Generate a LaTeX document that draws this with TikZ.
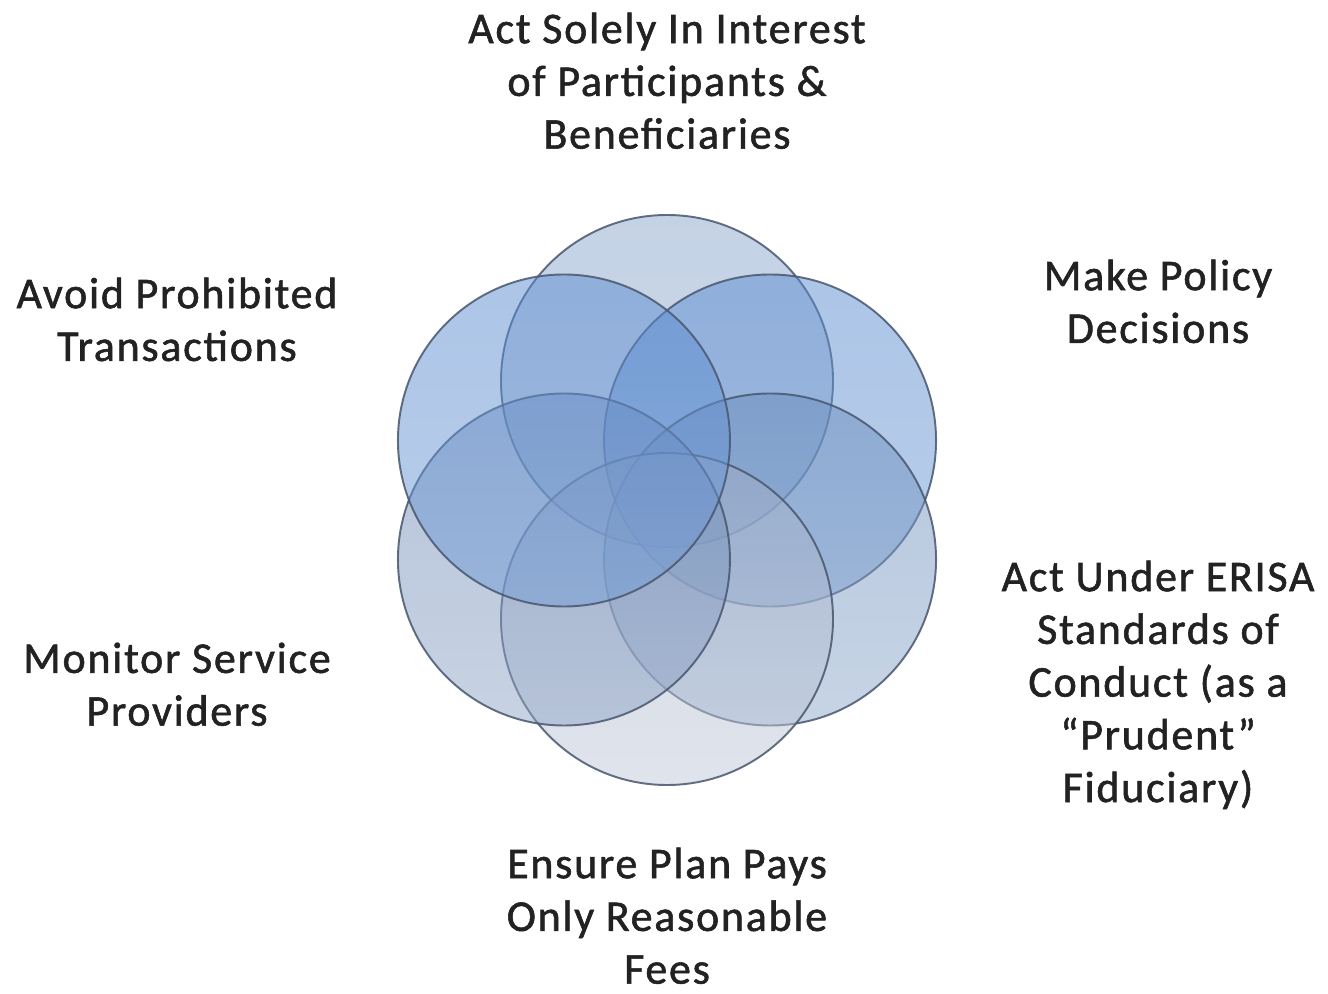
\documentclass[tikz,border=0pt]{standalone}
\usepackage{fontspec}
\setmainfont{Carlito}[LetterSpace=4, FakeBold=1.3]
\usepackage{xcolor}
\usetikzlibrary{positioning}

\definecolor{ringline}{HTML}{48566E}
\definecolor{dutytext}{HTML}{222222}
\definecolor{ringA}{HTML}{8AA6CC}
\definecolor{ringB}{HTML}{5A8BCF}
\definecolor{ringC}{HTML}{6A8DBC}
\definecolor{ringD}{HTML}{A0AEC6}
\definecolor{ringE}{HTML}{6C88B4}
\definecolor{ringF}{HTML}{5A8BCF}

\tikzset{
  ring/.style={draw=ringline, line width=0.55pt, draw opacity=0.85, fill opacity=0.5},
  duty/.style={align=center, anchor=north, inner sep=0pt, text=dutytext,
    font=\fontsize{12.5}{15}\selectfont}
}

\begin{document}
\begin{tikzpicture}
    \useasboundingbox (0,0) rectangle (13.28,9.93);
    \coordinate (hub) at (6.67,4.93);

    % six overlapping rings round the hub
    \shade[ring, top color=ringA, bottom color=ringA!85!white] ([shift={(90:1.19)}]hub) circle (1.66);
    \shade[ring, top color=ringB, bottom color=ringB!85!white] ([shift={(30:1.19)}]hub) circle (1.66);
    \shade[ring, top color=ringC, bottom color=ringC!75!white] ([shift={(-30:1.19)}]hub) circle (1.66);
    \shade[ring, top color=ringD, bottom color=ringD!65!white] ([shift={(-90:1.19)}]hub) circle (1.66);
    \shade[ring, top color=ringE, bottom color=ringE!75!white] ([shift={(210:1.19)}]hub) circle (1.66);
    \shade[ring, top color=ringF, bottom color=ringF!85!white] ([shift={(150:1.19)}]hub) circle (1.66);

    % duties
    \node[duty] (interest) at (6.67,9.81) {Act Solely In Interest\\of Participants \&\\Beneficiaries};
    \node[duty] (policy) at (11.58,7.34) {Make Policy\\Decisions};
    \node[duty] (erisa) at (11.58,4.33) {Act Under ERISA\\Standards of\\Conduct (as a\\“Prudent”\\Fiduciary)};
    \node[duty] (fees) at (6.67,1.46) {Ensure Plan Pays\\Only Reasonable\\Fees};
    \node[duty] (monitor) at (1.77,3.51) {Monitor Service\\Providers};
    \node[duty] (avoid) at (1.77,7.16) {Avoid Prohibited\\Transactions};
\end{tikzpicture}
\end{document}
